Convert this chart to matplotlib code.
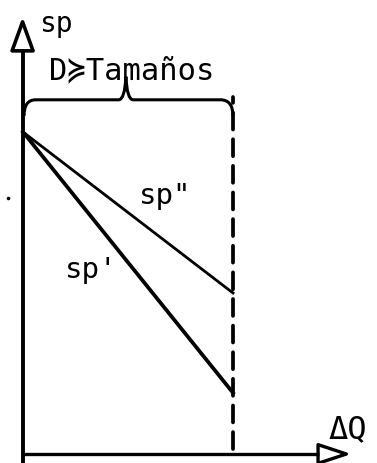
import matplotlib
matplotlib.use("Agg")
import matplotlib.pyplot as plt
from matplotlib.patches import Polygon, PathPatch
from matplotlib.path import Path

# Data (arbitrary units)
q_vals = [0, 10]
sp_double = [10, 5.0]   # sp''
sp_single = [10, 1.9]   # sp'
q_limit = 10            # dashed boundary (D >= Tamaños)
labels = {"y": "sp", "x": "ΔQ", "brace": "D≽Tamaños", "l2": 'sp"', "l1": "sp'"}

fig = plt.figure(figsize=(3.77, 4.64), dpi=100)
ax = fig.add_axes([0, 0, 1, 1])
ax.set_xlim(-23 / 21, 354 / 21)
ax.set_ylim(-9 / 32.2, 455 / 32.2)
ax.axis("off")

mono = ["DejaVu Sans Mono", "DejaVu Sans"]

# axes lines
ax.plot([-0.02, -0.02], [-0.3, 12.55], color="black", lw=2.8, solid_capstyle="butt")
ax.plot([-0.05, 14.1], [0, 0], color="black", lw=2.4, solid_capstyle="butt")

# open arrow heads
ax.add_patch(Polygon([[-0.52, 12.52], [0.48, 12.52], [-0.02, 13.42]], closed=True,
                     facecolor="white", edgecolor="black", lw=2.6, joinstyle="round"))
ax.add_patch(Polygon([[14.05, 0.29], [14.05, -0.29], [15.4, 0]], closed=True,
                     facecolor="white", edgecolor="black", lw=2.4, joinstyle="round"))

# lines
ax.plot(q_vals, sp_double, color="black", lw=2.0)
ax.plot(q_vals, sp_single, color="black", lw=2.7)

# dashed boundary
ax.plot([q_limit, q_limit], [0.15, 11.1], color="black", lw=2.7,
        dashes=(4.5, 2.6), dash_capstyle="round")

# brace
by = 11.0
tip = 11.72
mid = 4.9
verts = [(0.05, 10.5), (0.05, by), (0.6, by),
         (mid - 0.35, by), (mid - 0.05, by), (mid, tip),
         (mid + 0.05, by), (mid + 0.35, by),
         (q_limit - 0.6, by), (q_limit, by), (q_limit, 10.5)]
codes = [Path.MOVETO, Path.CURVE3, Path.CURVE3,
         Path.LINETO, Path.CURVE3, Path.CURVE3,
         Path.CURVE3, Path.CURVE3,
         Path.LINETO, Path.CURVE3, Path.CURVE3]
ax.add_patch(PathPatch(Path(verts, codes), facecolor="none", edgecolor="black", lw=2.2))

# texts
ax.text(0.75, 13.4, labels["y"], fontsize=20, family=mono, ha="left", va="center")
ax.text(1.25, 11.95, labels["brace"], fontsize=22, family=mono, ha="left", va="center")
ax.text(5.5, 8.05, labels["l2"], fontsize=21, family=mono, ha="left", va="center")
ax.text(2.0, 5.75, labels["l1"], fontsize=21, family=mono, ha="left", va="center")
ax.text(14.55, 0.8, labels["x"], fontsize=23, family=mono, ha="left", va="center")

# small dot (scan mark)
ax.plot([-0.72], [7.95], marker="o", markersize=1.6, color="black")

fig.savefig("out.png", dpi=100)
